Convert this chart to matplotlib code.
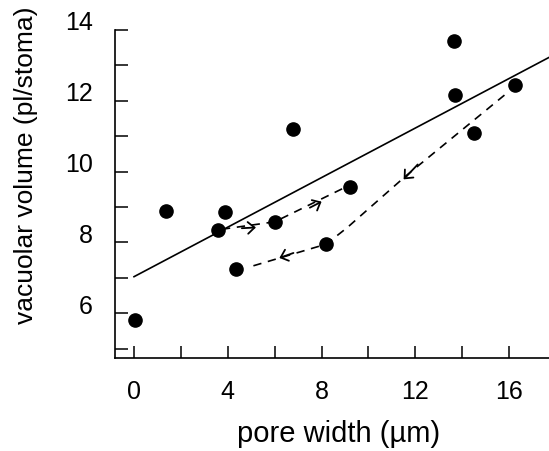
import matplotlib
matplotlib.use("Agg")
import matplotlib.pyplot as plt
from matplotlib.transforms import ScaledTranslation

plt.rcParams["font.family"] = ["Liberation Sans", "DejaVu Sans"]

# measured points: pore width (um) vs vacuolar volume (pl/stoma)
pore_width = [0.05, 1.35, 3.9, 3.6, 4.35, 6.0, 6.8, 8.2, 9.2, 13.65, 13.7, 14.5, 16.25]
vac_volume = [5.8, 8.9, 8.85, 8.35, 7.25, 8.58, 11.2, 7.95, 9.57, 13.68, 12.16, 11.08, 12.44]

# regression line
fit_x = [0.0, 17.8]
fit_y = [7.03, 13.26]

# opening path (dashed, arrows pointing right)
open_x = [3.75, 6.0, 8.9]
open_y = [8.37, 8.58, 9.52]
# closing path (dashed, arrows pointing left)
close_x = [15.8, 11.6, 9.1, 8.2, 4.95]
close_y = [12.16, 9.88, 8.42, 7.95, 7.31]

# arrow heads: (tail_x, tail_y, head_x, head_y)
arrows = [
    (4.6, 8.40, 5.2, 8.42),
    (7.5, 8.98, 8.0, 9.15),
    (12.1, 10.2, 11.5, 9.78),
    (6.8, 7.70, 6.2, 7.56),
]

fig = plt.figure(figsize=(5.49, 4.51), dpi=100)
ax = fig.add_axes([0.2095, 0.206, 0.7905, 0.7275])

ax.plot(fit_x, fit_y, color="black", lw=1.2)
ax.plot(open_x, open_y, color="black", lw=1.2, ls=(0, (5, 4)))
ax.plot(close_x, close_y, color="black", lw=1.2, ls=(0, (5, 4)))
for tx, ty, hx, hy in arrows:
    ax.annotate("", xy=(hx, hy), xytext=(tx, ty),
                arrowprops=dict(arrowstyle="->,head_length=0.4,head_width=0.35",
                                color="black", lw=1.3, mutation_scale=12,
                                shrinkA=0, shrinkB=0))
ax.plot(pore_width, vac_volume, "o", color="black", ms=9.5, zorder=5)

ax.set_xlim(-0.81, 17.7)
ax.set_ylim(4.73, 14)
ax.set_xticks([0, 2, 4, 6, 8, 10, 12, 14, 16])
ax.set_xticklabels(["0", "", "4", "", "8", "", "12", "", "16"])
ax.set_yticks([5, 6, 7, 8, 9, 10, 11, 12, 13, 14])
ax.set_yticklabels(["", "6", "", "8", "", "10", "", "12", "", "14"])
ax.tick_params(direction="in", length=9, width=1.1, labelsize=18)
ax.tick_params(axis="x", pad=15.5)
ax.tick_params(axis="y", pad=16)
# y labels sit a little above their ticks
shift = ScaledTranslation(0, 0.09, fig.dpi_scale_trans)
for lab in ax.get_yticklabels():
    lab.set_transform(lab.get_transform() + shift)
for s in ("top", "right"):
    ax.spines[s].set_visible(False)
for s in ("left", "bottom"):
    ax.spines[s].set_linewidth(1.2)

ax.set_xlabel("pore width (\u00b5m)", fontsize=21)
ax.set_ylabel("vacuolar volume (pl/stoma)", fontsize=19)
ax.xaxis.set_label_coords(0.515, -0.19)
ax.yaxis.set_label_coords(-0.177, 0.588)

fig.savefig("out.png", dpi=100)
